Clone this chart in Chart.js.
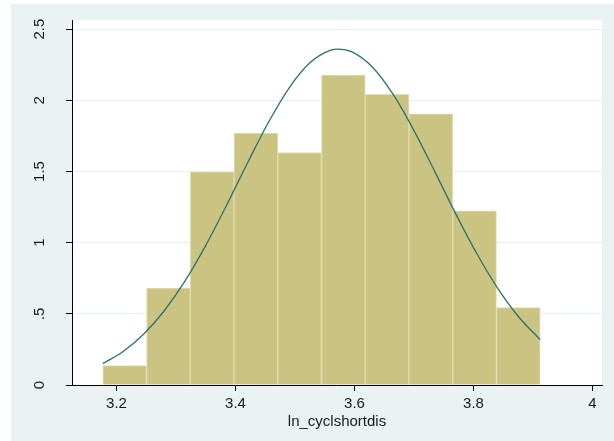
<!DOCTYPE html>
<html>
<head>
<meta charset="utf-8">
<script src="https://cdn.jsdelivr.net/npm/chart.js@4"></script>
<style>
    html, body { margin: 0; padding: 0; background: #ffffff; }
    #wrap {
        position: absolute;
        left: 11px;
        top: 4px;
        width: 603px;
        height: 437px;
        background: #eaf2f3;
    }
</style>
</head>
<body>
<div id="wrap"><canvas id="histChart"></canvas></div>
<script>
// histogram bins (centre of each bin) and density heights
const binCenters = [3.2138, 3.2873, 3.3608, 3.4343, 3.5078, 3.5813, 3.6548, 3.7283, 3.8018, 3.8753];
const binDensity = [0.136, 0.680, 1.497, 1.769, 1.633, 2.177, 2.041, 1.905, 1.224, 0.544];

// normal density overlay
const curveX = [3.177, 3.21, 3.245, 3.28, 3.315, 3.35, 3.385, 3.42, 3.455, 3.49, 3.525, 3.56, 3.574,
                3.595, 3.63, 3.665, 3.70, 3.735, 3.77, 3.805, 3.84, 3.875, 3.912];
const curveY = [0.150, 0.232, 0.355, 0.520, 0.729, 0.981, 1.263, 1.558, 1.842, 2.086, 2.263, 2.352, 2.360,
                2.342, 2.234, 2.041, 1.787, 1.499, 1.204, 0.927, 0.684, 0.483, 0.319];

const xTicks = [3.2, 3.4, 3.6, 3.8, 4];
const yTicks = [0, 0.5, 1, 1.5, 2, 2.5];
const yTickLabels = ['0', '.5', '1', '1.5', '2', '2.5'];
const xTitle = 'ln_cyclshortdis';

const FONT = 'Liberation Sans, Arial, sans-serif';

// white plot region + rotated y tick labels
const plotBackground = {
    id: 'plotBackground',
    beforeDraw(chart) {
        const { ctx, chartArea } = chart;
        ctx.save();
        ctx.fillStyle = '#ffffff';
        ctx.fillRect(chartArea.left, chartArea.top, chartArea.right - chartArea.left, chartArea.bottom - chartArea.top);
        ctx.restore();
    },
    afterDraw(chart) {
        const { ctx } = chart;
        const y = chart.scales.y;
        ctx.save();
        ctx.fillStyle = '#1a1a1a';
        ctx.font = '15px ' + FONT;
        ctx.textAlign = 'center';
        ctx.textBaseline = 'middle';
        yTicks.forEach((v, i) => {
            ctx.save();
            ctx.translate(29, y.getPixelForValue(v));
            ctx.rotate(-Math.PI / 2);
            ctx.fillText(yTickLabels[i], 0, 0);
            ctx.restore();
        });
        ctx.restore();
    }
};

const ctx = document.getElementById('histChart').getContext('2d');
new Chart(ctx, {
    data: {
        datasets: [{
            type: 'line',
            data: curveX.map((x, i) => ({ x: x, y: curveY[i] })),
            borderColor: '#2b716d',
            borderWidth: 1.3,
            pointRadius: 0,
            cubicInterpolationMode: 'monotone',
            fill: false,
            order: 0
        }, {
            type: 'bar',
            data: binCenters.map((x, i) => ({ x: x, y: binDensity[i] })),
            backgroundColor: '#cbc382',
            borderColor: '#e2ddb0',
            borderWidth: 1,
            borderSkipped: 'bottom',
            barPercentage: 1,
            categoryPercentage: 1,
            order: 1
        }]
    },
    options: {
        responsive: true,
        maintainAspectRatio: false,
        animation: false,
        layout: {
            padding: { left: 0, top: 16, right: 12, bottom: 0 }
        },
        plugins: {
            legend: { display: false },
            tooltip: { enabled: false }
        },
        scales: {
            x: {
                type: 'linear',
                offset: false,
                min: 3.1252,
                max: 4.016,
                afterBuildTicks: (scale) => { scale.ticks = xTicks.map(v => ({ value: v })); },
                afterFit: (scale) => { scale.height = 56; },
                grid: {
                    offset: false,
                    drawOnChartArea: false,
                    tickLength: 6,
                    tickColor: '#000000'
                },
                border: { color: '#000000', width: 1 },
                ticks: {
                    color: '#1a1a1a',
                    font: { family: FONT, size: 15 },
                    padding: 4,
                    maxRotation: 0,
                    callback: (v) => String(v)
                },
                title: {
                    display: true,
                    text: xTitle,
                    color: '#1a1a1a',
                    font: { family: FONT, size: 15 },
                    padding: { top: 0, bottom: 10 }
                }
            },
            y: {
                type: 'linear',
                min: 0,
                max: 2.564,
                afterBuildTicks: (scale) => { scale.ticks = yTicks.map(v => ({ value: v })); },
                afterFit: (scale) => { scale.width = 61; },
                grid: {
                    color: '#e6eff1',
                    tickLength: 6,
                    tickColor: '#000000'
                },
                border: { color: '#000000', width: 1 },
                ticks: { display: false }
            }
        }
    },
    plugins: [plotBackground]
});
</script>
</body>
</html>
